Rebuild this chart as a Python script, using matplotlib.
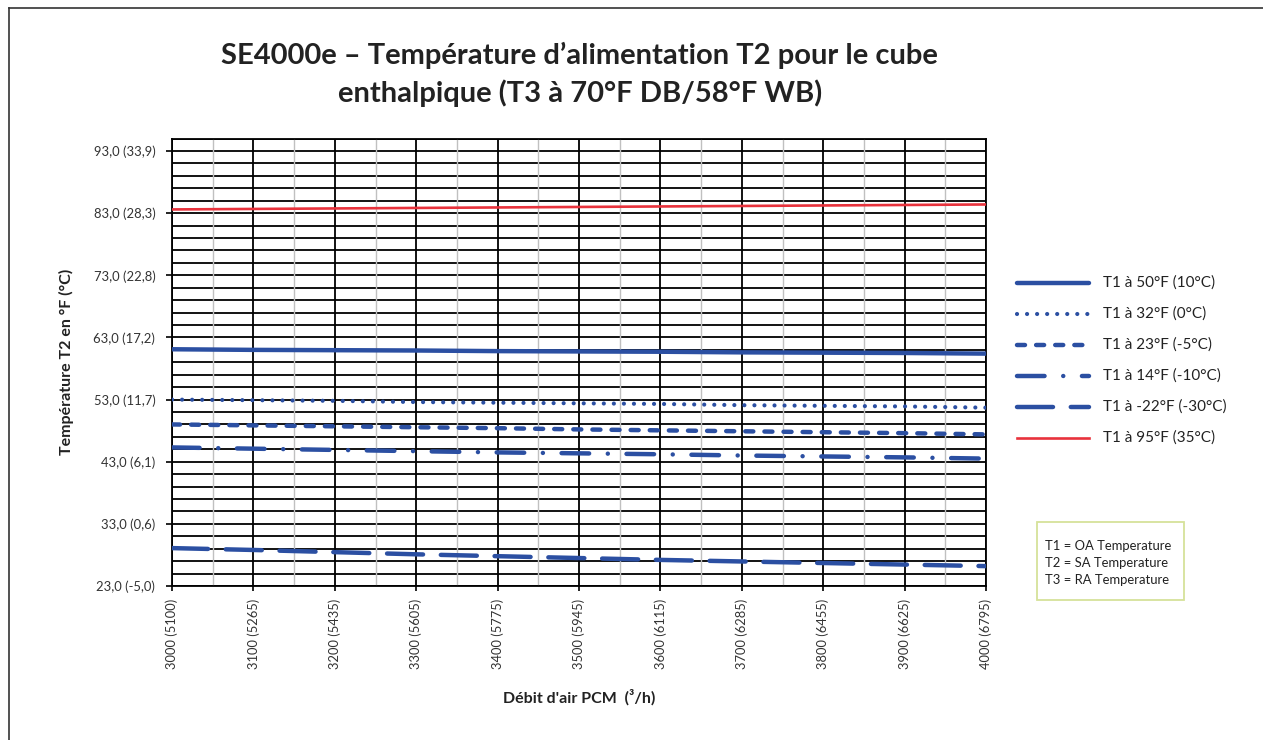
"""SE4000e supply temperature T2 chart for the enthalpy cube."""
import matplotlib
matplotlib.use('Agg')
import matplotlib.pyplot as plt
from matplotlib.lines import Line2D
from matplotlib.patches import Rectangle
import numpy as np

plt.rcParams['font.family'] = ['Lato', 'DejaVu Sans']

# data
cfm = [3000, 3100, 3200, 3300, 3400, 3500, 3600, 3700, 3800, 3900, 4000]
x_labels = ["3000 (5100)", "3100 (5265)", "3200 (5435)", "3300 (5605)",
            "3400 (5775)", "3500 (5945)", "3600 (6115)", "3700 (6285)",
            "3800 (6455)", "3900 (6625)", "4000 (6795)"]
y_ticks = [23, 33, 43, 53, 63, 73, 83, 93]
y_labels = ["23,0 (-5,0)", "33,0 (0,6)", "43,0 (6,1)", "53,0 (11,7)",
            "63,0 (17,2)", "73,0 (22,8)", "83,0 (28,3)", "93,0 (33,9)"]

t1_50 = [61.1, 61.0, 60.95, 60.9, 60.8, 60.75, 60.7, 60.6, 60.55, 60.5, 60.4]
t1_32 = [53.0, 52.9, 52.8, 52.6, 52.5, 52.4, 52.3, 52.1, 52.0, 51.9, 51.7]
t1_23 = [49.0, 48.85, 48.7, 48.55, 48.4, 48.2, 48.05, 47.9, 47.75, 47.6, 47.4]
t1_14 = [45.3, 45.1, 44.9, 44.7, 44.5, 44.35, 44.2, 44.0, 43.85, 43.7, 43.5]
t1_m22 = [29.1, 28.8, 28.45, 28.1, 27.8, 27.5, 27.2, 26.95, 26.7, 26.45, 26.2]
t1_95 = [83.6, 83.68, 83.76, 83.84, 83.92, 84.0, 84.08, 84.16, 84.24, 84.32, 84.4]

series_labels = ["T1 à 50°F (10°C)", "T1 à 32°F (0°C)", "T1 à 23°F (-5°C)",
                 "T1 à 14°F (-10°C)", "T1 à -22°F (-30°C)", "T1 à 95°F (35°C)"]

BLUE = "#2b4fa2"
RED = "#e8323c"
TXT = "#222222"

styles = [
    dict(color=BLUE, lw=3.2, solid_capstyle='butt'),
    dict(color=BLUE, lw=3.0, dashes=(0.01, 2.4), dash_capstyle='round'),
    dict(color=BLUE, lw=3.2, dashes=(1.8, 2.5), dash_capstyle='round'),
    dict(color=BLUE, lw=3.2, dashes=(6.2, 4.2, 0.01, 4.2), dash_capstyle='round'),
    dict(color=BLUE, lw=3.2, dashes=(8.1, 4.0), dash_capstyle='round'),
    dict(color=RED, lw=1.9),
]

fig = plt.figure(figsize=(12.63, 7.40), dpi=100)
ax = fig.add_axes([0.1362, 0.2081, 0.7807 - 0.1362, 0.8127 - 0.2081])

# grid: black horizontals every 2 units, black/grey verticals
for yv in np.arange(23, 96, 2):
    ax.axhline(yv, color='black', lw=1.3, zorder=1)
for xv in np.arange(3050, 4000, 100):
    ax.axvline(xv, color='#c0c0c0', lw=1.0, zorder=1)
for xv in cfm:
    ax.axvline(xv, color='black', lw=1.3, zorder=1)

for ys, st in zip([t1_50, t1_32, t1_23, t1_14, t1_m22, t1_95], styles):
    ax.plot(cfm, ys, zorder=3, **st)

ax.set_xlim(3000, 4000)
ax.set_ylim(23, 95)
ax.set_yticks(y_ticks)
ax.set_yticklabels(y_labels, fontsize=9.4, color='#333333')
ax.set_xticks(cfm)
ax.set_xticklabels(x_labels, rotation=90, fontsize=9.3, color='#333333')
ax.tick_params(axis='y', length=4, width=1.2, pad=8)
ax.tick_params(axis='x', length=3.5, width=1.2, pad=6)
for sp in ax.spines.values():
    sp.set_color('black')
    sp.set_linewidth(1.3)

ax.set_ylabel("Température T2 en °F (°C)", fontsize=11.5, fontweight='bold',
              color=TXT, labelpad=14)
ax.set_xlabel("Débit d'air PCM  (³/h)", fontsize=11.5, fontweight='bold',
              color=TXT, labelpad=14)

fig.text(0.459, 0.899, "SE4000e – Température d’alimentation T2 pour le cube\nenthalpique (T3 à 70°F DB/58°F WB)",
         ha='center', va='center', fontsize=21, fontweight='bold',
         color=TXT, linespacing=1.45)

# legend drawn in figure coords
for i, (lab, st) in enumerate(zip(series_labels, styles)):
    ypx = 283 + i * 31
    yf = 1 - ypx / 740
    st = dict(st)
    if 'solid_capstyle' in st:
        st['solid_capstyle'] = 'round'
    fig.add_artist(Line2D([1017 / 1263, 1089 / 1263], [yf, yf], **st))
    fig.text(1103 / 1263, yf, lab, ha='left', va='center', fontsize=11,
             color=TXT)

# note box
fig.add_artist(Rectangle((1037 / 1263, 1 - 600 / 740), 147 / 1263, 78 / 740,
                         transform=fig.transFigure, facecolor='white',
                         edgecolor='#d6e29a', lw=1.3))
fig.text(1045 / 1263, 1 - 563 / 740,
         "T1 = OA Temperature\nT2 = SA Temperature\nT3 = RA Temperature",
         ha='left', va='center', fontsize=9.4, color=TXT, linespacing=1.5)

# figure frame: left and top edges
fig.add_artist(Line2D([8.5 / 1263, 8.5 / 1263], [0, 1 - 8 / 740], color='#333333', lw=1.2))
fig.add_artist(Line2D([8.5 / 1263, 1], [1 - 8 / 740, 1 - 8 / 740], color='#333333', lw=1.2))

fig.savefig("out.png", dpi=100)
